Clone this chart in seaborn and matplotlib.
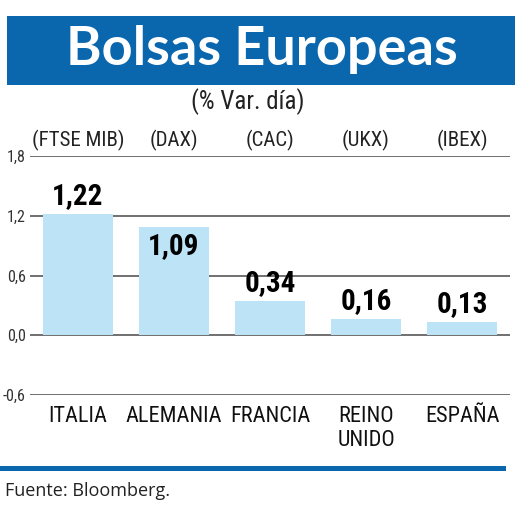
import matplotlib
matplotlib.use("Agg")
import matplotlib.pyplot as plt
import matplotlib.transforms as mtransforms
from matplotlib.patches import Rectangle
import seaborn as sns
import pandas as pd

# datos del gráfico
paises = ["ITALIA", "ALEMANIA", "FRANCIA", "REINO\nUNIDO", "ESPAÑA"]
indices = ["(FTSE MIB)", "(DAX)", "(CAC)", "(UKX)", "(IBEX)"]
variacion = [1.22, 1.09, 0.34, 0.16, 0.13]
ticks_y = [-0.6, 0.0, 0.6, 1.2, 1.8]
etiquetas_y = ["-0,6", "0,0", "0,6", "1,2", "1,8"]

df = pd.DataFrame({"pais": paises, "var": variacion})

sns.set_theme(style="white")
narrow = ["Roboto Condensed", "Liberation Sans Narrow", "Roboto", "DejaVu Sans"]
plt.rcParams["font.family"] = narrow

azul = "#0a67ad"
celeste = "#bde3f7"
gris = "#707070"

fig = plt.figure(figsize=(5.2, 5.05), dpi=100)
ax = fig.add_axes([30 / 520, 1 - 395 / 505, 480 / 520, 239 / 505])

sns.barplot(data=df, x="pais", y="var", color=celeste, saturation=1, width=0.72,
            linewidth=0, ax=ax, zorder=2)

ax.set_ylim(-0.6, 1.8)
ax.set_xlim(-0.5, 4.5)
ax.set_yticks(ticks_y)
ax.set_yticklabels(etiquetas_y, fontsize=11.5, color="#333333")
ax.tick_params(axis="y", length=0, pad=3)
ax.tick_params(axis="x", length=0, pad=8, labelsize=16, labelcolor="#111111")
for lbl in ax.get_xticklabels():
    lbl.set_verticalalignment("top")
    lbl.set_linespacing(1.2)
ax.set_xlabel("")
ax.set_ylabel("")
for s in ax.spines.values():
    s.set_visible(False)
for t in ticks_y:
    ax.axhline(t, color=gris, lw=1.4, zorder=1)

# valores sobre las barras (ALEMANIA va dentro de la barra)
for i, v in enumerate(variacion):
    texto = f"{v:.2f}".replace(".", ",")
    if i == 1:
        ax.annotate(texto, (i, v), xytext=(0, -4), textcoords="offset points",
                    ha="center", va="top", fontsize=21, fontweight="bold", color="black", zorder=3)
    else:
        ax.annotate(texto, (i, v), xytext=(0, 3), textcoords="offset points",
                    ha="center", va="bottom", fontsize=21, fontweight="bold", color="black", zorder=3)

# nombres de los índices
trans = mtransforms.blended_transform_factory(ax.transData, fig.transFigure)
for i, nombre in enumerate(indices):
    ax.text(i, 1 - 140 / 505, nombre, transform=trans, ha="center", va="center",
            fontsize=15, color="#222222")

# caja del título
fig.patches.append(Rectangle((7 / 520, 1 - 85 / 505), 508 / 520, 69 / 505,
                             transform=fig.transFigure, facecolor=azul, edgecolor="none"))
fig.text(262 / 520, 1 - 50 / 505, "Bolsas Europeas", ha="center", va="center",
         fontsize=39, fontweight="bold", color="white", family=["Lato", "DejaVu Sans"])
fig.text(248 / 520, 1 - 102 / 505, "(% Var. día)", ha="center", va="center",
         fontsize=18, color="#222222")

# línea inferior y fuente
fig.patches.append(Rectangle((0, 1 - 471 / 505), 506 / 520, 5 / 505,
                             transform=fig.transFigure, facecolor=azul, edgecolor="none"))
fig.text(5 / 520, 1 - 491 / 505, "Fuente: Bloomberg.", ha="left", va="center",
         fontsize=13, color="#222222", family=["Open Sans", "DejaVu Sans"])

fig.savefig("out.png", dpi=100)
